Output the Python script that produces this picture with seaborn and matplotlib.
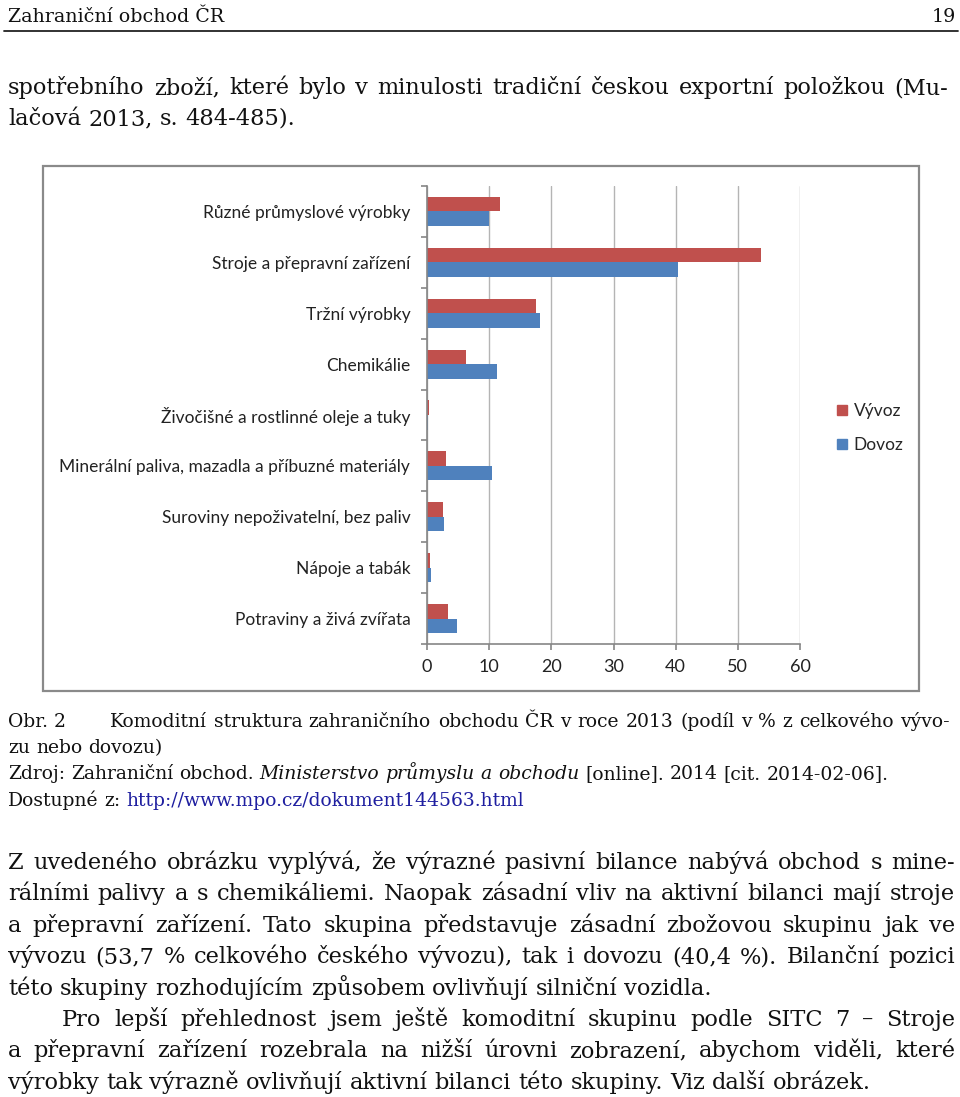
import numpy as np
import pandas as pd
import seaborn as sns
import matplotlib.pyplot as plt
from matplotlib.patches import Rectangle
from matplotlib.lines import Line2D

# chart data (share in % of total export / import, 2013)
categories = [
    "Různé průmyslové výrobky",
    "Stroje a přepravní zařízení",
    "Tržní výrobky",
    "Chemikálie",
    "Živočišné a rostlinné oleje a tuky",
    "Minerální paliva, mazadla a příbuzné materiály",
    "Suroviny nepoživatelní, bez paliv",
    "Nápoje a tabák",
    "Potraviny a živá zvířata",
]
vyvoz = [11.7, 53.7, 17.5, 6.2, 0.3, 3.1, 2.6, 0.5, 3.4]
dovoz = [10.0, 40.4, 18.1, 11.3, 0.2, 10.5, 2.8, 0.6, 4.9]
series = ["Vývoz", "Dovoz"]
colors = ["#C0504D", "#4F81BD"]
x_ticks = [0, 10, 20, 30, 40, 50, 60]

header_left = "Zahraniční obchod ČR"
header_right = "19"
top_lines = [
    "spotřebního zboží, které bylo v minulosti tradiční českou exportní položkou (Mu-",
    "lačová 2013, s. 484-485).",
]
caption_label = "Obr. 2"
caption_lines = [
    "Komoditní struktura zahraničního obchodu ČR v roce 2013 (podíl v % z celkového vývo-",
    "zu nebo dovozu)",
]
source_runs = [
    ("Zdroj: Zahraniční obchod.", {}),
    ("Ministerstvo průmyslu a obchodu", {"style": "italic"}),
    ("[online]. 2014 [cit. 2014-02-06].", {}),
]
link_runs = [
    ("Dostupné z:", {}),
    ("http://www.mpo.cz/dokument144563.html", {"color": "#1F1FA0"}),
]
body_lines = [
    "Z uvedeného obrázku vyplývá, že výrazné pasivní bilance nabývá obchod s mine-",
    "rálními palivy a s chemikáliemi. Naopak zásadní vliv na aktivní bilanci mají stroje",
    "a přepravní zařízení. Tato skupina představuje zásadní zbožovou skupinu jak ve",
    "vývozu (53,7 % celkového českého vývozu), tak i dovozu (40,4 %). Bilanční pozici",
    "této skupiny rozhodujícím způsobem ovlivňují silniční vozidla.",
    "Pro lepší přehlednost jsem ještě komoditní skupinu podle SITC 7 – Stroje",
    "a přepravní zařízení rozebrala na nižší úrovni zobrazení, abychom viděli, které",
    "výrobky tak výrazně ovlivňují aktivní bilanci této skupiny. Viz další obrázek.",
]
body_justified = [True, True, True, True, False, True, True, False]
body_indent = [0, 0, 0, 0, 0, 54, 0, 0]

df = pd.DataFrame({
    "kategorie": categories * 2,
    "podil": vyvoz + dovoz,
    "tok": [series[0]] * len(categories) + [series[1]] * len(categories),
})

sns.set_theme(style="white")
plt.rcParams["font.family"] = ["DejaVu Sans"]

W, H = 960, 1097
fig = plt.figure(figsize=(W / 100, H / 100), dpi=100)
renderer = fig.canvas.get_renderer()


def fx(x):
    return x / W


def fy(y):
    return 1 - y / H


def text_width(s, props):
    t = fig.text(0, 0, s, **props)
    w = t.get_window_extent(renderer).width
    t.remove()
    return w


def draw_runs(runs, x0, y, x1=None, **base):
    # place words one by one; justify between x0 and x1 when x1 is given
    words = []
    for s, extra in runs:
        for w in s.split(" "):
            if w:
                words.append((w, {**base, **extra}))
    items = []
    for w, props in words:
        t = fig.text(fx(x0), fy(y), w, va="baseline", ha="left", **props)
        items.append((t, t.get_window_extent(renderer).width))
    space = text_width("x x", base) - text_width("xx", base)
    total = sum(wd for _, wd in items)
    if x1 is not None and len(items) > 1:
        gap = max((x1 - x0 - total) / (len(items) - 1), 0.4 * space)
    else:
        gap = space
    x = x0
    for t, wd in items:
        t.set_position((fx(x), fy(y)))
        x += wd + gap


serif = {"family": "DejaVu Serif", "color": "#111111"}

# page header
fig.text(fx(8), fy(22), header_left, fontsize=13.7, va="baseline", **serif)
fig.text(fx(956), fy(22), header_right, fontsize=13.7, va="baseline", ha="right", **serif)
fig.add_artist(Line2D([fx(4), fx(958)], [fy(30.5), fy(30.5)], color="#222222", lw=1.3))

# text above the chart
draw_runs([(top_lines[0], {})], 8, 94, 948, fontsize=16.2, **serif)
draw_runs([(top_lines[1], {})], 8, 125, fontsize=16.2, **serif)

# chart frame
fig.add_artist(Rectangle((fx(43), fy(691)), fx(876), 525 / H, fill=False,
                         edgecolor="#8a8a8a", lw=1.6, transform=fig.transFigure))

ax = fig.add_axes([fx(427), fy(644), fx(373), 458 / H])
sns.barplot(data=df, y="kategorie", x="podil", hue="tok", order=categories,
            hue_order=series, palette=colors, width=0.57, saturation=1,
            linewidth=0, legend=False, ax=ax)
ax.set_xlim(0, 60)
ax.set_ylim(len(categories) - 0.5, -0.5)
ax.set_xticks(x_ticks)
ax.set_xlabel("")
ax.set_ylabel("")
ax.grid(axis="x", color="#b4b4b4", lw=1)
ax.set_axisbelow(True)
for side in ["top", "right"]:
    ax.spines[side].set_visible(False)
for side in ["left", "bottom"]:
    ax.spines[side].set_color("#868686")
    ax.spines[side].set_linewidth(1.2)
ax.set_yticks(np.arange(-0.5, len(categories), 1), minor=True)
ax.tick_params(axis="y", which="major", length=0, pad=12)
ax.tick_params(axis="y", which="minor", length=4, color="#868686", width=1.2, direction="out", left=True)
ax.tick_params(axis="x", length=4, color="#868686", width=1.2, direction="out", bottom=True, pad=7)
for lbl in ax.get_yticklabels():
    lbl.set_fontfamily("Lato")
    lbl.set_fontsize(12.5)
    lbl.set_color("#222222")
for lbl in ax.get_xticklabels():
    lbl.set_fontfamily("Lato")
    lbl.set_fontsize(13)
    lbl.set_color("#222222")

handles = [Line2D([], [], marker="s", ls="", markersize=7.5, color=c, label=s)
           for c, s in zip(colors, series)]
fig.legend(handles=handles, loc="center left", bbox_to_anchor=(fx(818), fy(428)),
           frameon=False, handletextpad=0.15, labelspacing=1.05, handlelength=1.0,
           prop={"family": "Lato", "size": 12.5})

# caption
cap = {**serif, "fontsize": 13.5}
fig.text(fx(8), fy(727), caption_label, va="baseline", **cap)
draw_runs([(caption_lines[0], {})], 110, 727, 950, **cap)
draw_runs([(caption_lines[1], {})], 8, 753, **cap)
draw_runs(source_runs, 8, 779, **cap)
draw_runs(link_runs, 8, 806, **cap)

# body paragraphs
body = {**serif, "fontsize": 16.2}
for i, line in enumerate(body_lines):
    y = 869 + i * 31.4
    x0 = 8 + body_indent[i]
    draw_runs([(line, {})], x0, y, 955 if body_justified[i] else None, **body)

fig.savefig("out.png", dpi=100)
